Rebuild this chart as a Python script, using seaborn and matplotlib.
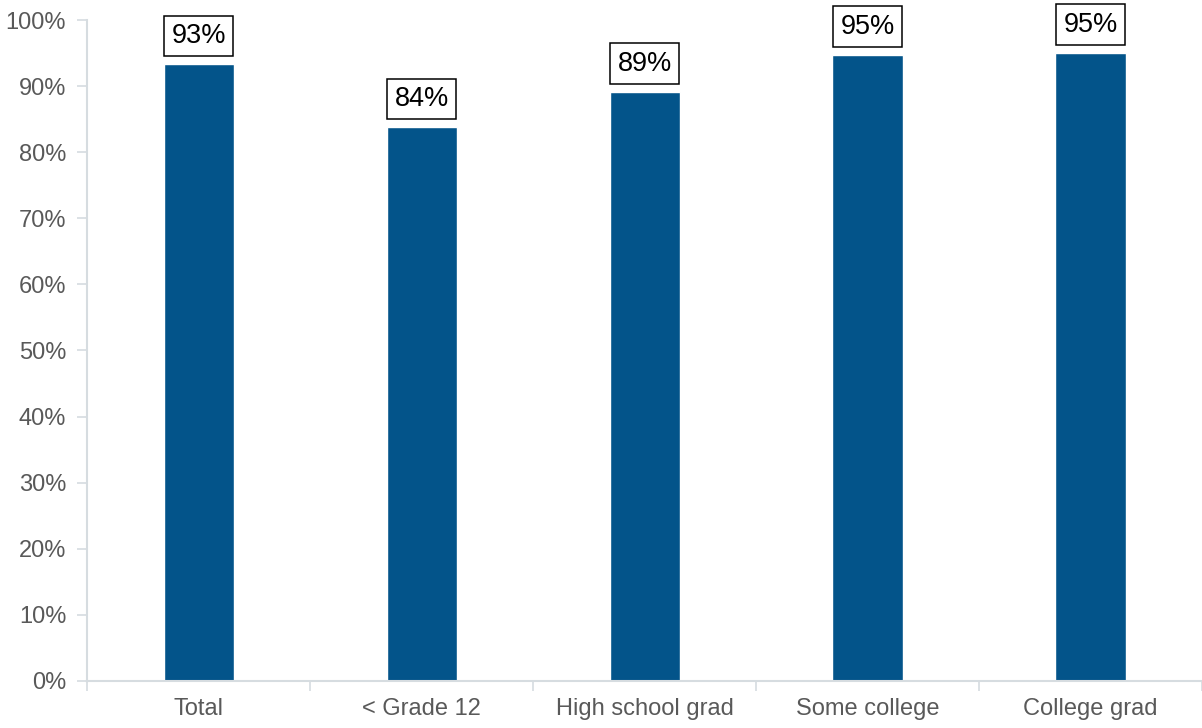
import matplotlib.pyplot as plt
import numpy as np
import seaborn as sns
from matplotlib.ticker import FixedLocator, PercentFormatter

categories = ["Total", "< Grade 12", "High school grad", "Some college", "College grad"]
values = [0.933, 0.838, 0.891, 0.947, 0.950]
labels = ["93%", "84%", "89%", "95%", "95%"]

BAR_COLOR = "#03548A"
AXIS_COLOR = "#D6DCE0"
TEXT_GRAY = "#595959"

sns.set_style("white")
plt.rcParams["font.family"] = ["Liberation Sans", "DejaVu Sans"]

fig = plt.figure(figsize=(12.02, 7.28), dpi=100)
ax = fig.add_axes([0.0724, 0.0646, 0.9276, 0.9079])

sns.barplot(x=categories, y=values, color=BAR_COLOR, width=0.314, saturation=1, ax=ax)

# boxed value labels above each bar
for i, (v, lab) in enumerate(zip(values, labels)):
    ax.annotate(
        lab,
        xy=(i, v),
        xytext=(0, 11),
        textcoords="offset points",
        ha="center",
        va="bottom",
        fontsize=19.5,
        color="black",
        bbox=dict(boxstyle="square,pad=0.27", fc="white", ec="black", lw=1.1),
    )

ax.set_ylim(0, 1.0)
ax.set_xlim(-0.5, len(categories) - 0.5)
ax.yaxis.set_major_locator(FixedLocator(np.arange(0, 1.01, 0.1)))
ax.yaxis.set_major_formatter(PercentFormatter(1.0, decimals=0))

# ticks between categories, labels centred under bars
ax.xaxis.set_minor_locator(FixedLocator(np.arange(-0.5, len(categories), 1.0)))
ax.tick_params(axis="x", which="major", length=0, labelsize=17, labelcolor=TEXT_GRAY, pad=12)
ax.tick_params(axis="x", which="minor", length=7, width=1.2, color=AXIS_COLOR, bottom=True)
ax.tick_params(axis="y", length=7, width=1.2, color=AXIS_COLOR, labelsize=17, labelcolor=TEXT_GRAY, left=True, pad=8)

for side in ["top", "right"]:
    ax.spines[side].set_visible(False)
for side in ["left", "bottom"]:
    ax.spines[side].set_color(AXIS_COLOR)
    ax.spines[side].set_linewidth(1.5)

ax.set_xlabel("")
ax.set_ylabel("")

fig.savefig("out.png", dpi=100)
